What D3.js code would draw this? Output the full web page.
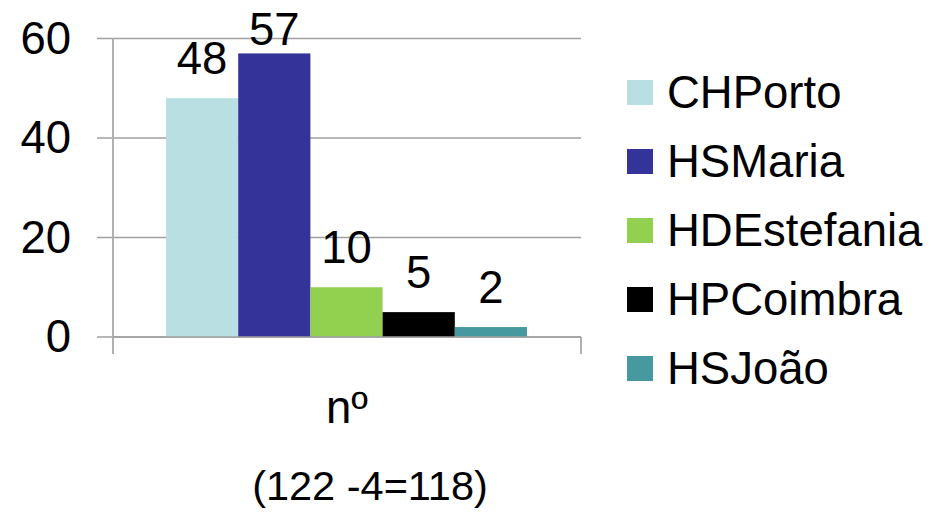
<!DOCTYPE html>
<html><head><meta charset="utf-8">
<script src="https://cdn.jsdelivr.net/npm/d3@7"></script>
<style>body{margin:0;background:#fff}svg{display:block}text{font-family:"Liberation Sans",Arial,sans-serif;fill:#000}</style>
</head><body>
<svg id="c" width="930" height="512"></svg>
<script>
const categories = ["CHPorto","HSMaria","HDEstefania","HPCoimbra","HSJoão"];
const values = [48,57,10,5,2];
const colors = ["#b9dfe3","#333399","#92d050","#000000","#469a9f"];
const yTicks = [0,20,40,60];
const xLabel = "nº";
const subtitle = "(122 -4=118)";

const svg = d3.select("#c");
const fs = 45.5;
const x0 = 113, x1 = 581, yTop = 38.5, yBot = 337;
const y = d3.scaleLinear().domain([0,60]).range([yBot,yTop]);
const xb = d3.scaleBand().domain(categories).range([166,527]).paddingInner(0).paddingOuter(0);

// gridlines
svg.append("g").selectAll("line").data(yTicks).join("line")
  .attr("x1",97).attr("x2",x1).attr("y1",d=>y(d)).attr("y2",d=>y(d))
  .attr("stroke","#a0a0a0").attr("stroke-width",1.5);

// bars
svg.append("g").selectAll("rect").data(values).join("rect")
  .attr("x",(d,i)=>xb(categories[i])).attr("width",xb.bandwidth())
  .attr("y",d=>y(d)).attr("height",d=>y(0)-y(d))
  .attr("fill",(d,i)=>colors[i]);

// axes lines
svg.append("line").attr("x1",x0).attr("x2",x0).attr("y1",yTop).attr("y2",354).attr("stroke","#b0b0b0").attr("stroke-width",2);
svg.append("line").attr("x1",x1).attr("x2",x1).attr("y1",yBot).attr("y2",354).attr("stroke","#b0b0b0").attr("stroke-width",2);
svg.append("line").attr("x1",x0).attr("x2",x1).attr("y1",yBot).attr("y2",yBot).attr("stroke","#a0a0a0").attr("stroke-width",1.5);

// y tick labels
svg.append("g").selectAll("text").data(yTicks).join("text")
  .attr("x",71).attr("y",d=>y(d)+15).attr("text-anchor","end")
  .attr("font-size",fs).text(d=>d);

// value labels
svg.append("g").selectAll("text").data(values).join("text")
  .attr("x",(d,i)=>xb(categories[i])+xb.bandwidth()/2)
  .attr("y",d=>Math.max(y(d)-24,45)).attr("text-anchor","middle")
  .attr("font-size",fs).text(d=>d);

// axis title and subtitle
svg.append("text").attr("x",(x0+x1)/2).attr("y",423).attr("text-anchor","middle").attr("font-size",fs).text(xLabel);
svg.append("text").attr("x",370).attr("y",500).attr("text-anchor","middle").attr("font-size",41.5).text(subtitle);

// legend
const lg = svg.append("g").selectAll("g").data(categories).join("g")
  .attr("transform",(d,i)=>`translate(627,${92+i*69})`);
lg.append("rect").attr("x",0).attr("y",-12).attr("width",26).attr("height",25).attr("fill",(d,i)=>colors[i]);
lg.append("text").attr("x",40).attr("y",16).attr("font-size",fs).text(d=>d);
</script>
</body></html>
